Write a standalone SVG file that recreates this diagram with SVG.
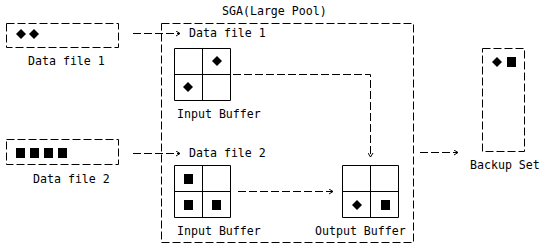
<svg xmlns="http://www.w3.org/2000/svg" width="548" height="251" viewBox="0 0 548 251">
<defs>
<style>
text{font-family:"DejaVu Sans Mono","Liberation Mono",monospace;font-size:11.6px;fill:#000}
.d{fill:none;stroke:#000;stroke-width:1;stroke-dasharray:8 3}
.g{fill:none;stroke:#000;stroke-width:1}
.f{fill:#000}
</style>
<marker id="ah" markerWidth="6" markerHeight="6" refX="5" refY="3" orient="auto" markerUnits="userSpaceOnUse">
<path d="M1,0.5 L5,3 L1,5.5" fill="none" stroke="#000" stroke-width="1"/>
</marker>
<path id="dia" d="M0,-5 L5,0 L0,5 L-5,0 Z"/>
</defs>
<rect width="548" height="251" fill="#fff"/>

<g id="sga">
<rect class="d" x="161.5" y="23.5" width="252" height="219"/>
<text x="222" y="15">SGA(Large Pool)</text>
<text x="189" y="37">Data file 1</text>
<text x="189" y="157">Data file 2</text>
</g>

<g id="datafile1">
<rect class="d" x="6.5" y="23.5" width="112" height="24"/>
<use href="#dia" x="21" y="34" class="f"/>
<use href="#dia" x="34" y="34" class="f"/>
<text x="28" y="65">Data file 1</text>
</g>

<g id="datafile2">
<rect class="d" x="6.5" y="139.5" width="112" height="25"/>
<rect class="f" x="16" y="148" width="9" height="10"/>
<rect class="f" x="30" y="148" width="9" height="10"/>
<rect class="f" x="44" y="148" width="9" height="10"/>
<rect class="f" x="58" y="148" width="9" height="10"/>
<text x="33" y="183">Data file 2</text>
</g>

<g id="inbuf1">
<path class="g" d="M174.5,48.5 H230.5 V100.5 H174.5 Z M202.5,48.5 V100.5 M174.5,74.5 H230.5"/>
<use href="#dia" x="217" y="61" class="f"/>
<use href="#dia" x="188" y="87" class="f"/>
<text x="177" y="118">Input Buffer</text>
</g>

<g id="inbuf2">
<path class="g" d="M174.5,165.5 H230.5 V217.5 H174.5 Z M202.5,165.5 V217.5 M174.5,191.5 H230.5"/>
<rect class="f" x="184" y="174" width="9" height="10"/>
<rect class="f" x="184" y="200" width="9" height="10"/>
<rect class="f" x="212" y="200" width="9" height="10"/>
<text x="177" y="235">Input Buffer</text>
</g>

<g id="outbuf">
<path class="g" d="M342.5,165.5 H398.5 V217.5 H342.5 Z M370.5,165.5 V217.5 M342.5,191.5 H398.5"/>
<use href="#dia" x="357" y="205" class="f"/>
<rect class="f" x="381" y="200" width="9" height="10"/>
<text x="315" y="235">Output Buffer</text>
</g>

<g id="backup">
<rect class="d" x="482.5" y="48.5" width="42" height="103"/>
<use href="#dia" x="497" y="62" class="f"/>
<rect class="f" x="507" y="57" width="9" height="10"/>
<text x="470" y="169">Backup Set</text>
</g>

<g id="connectors">
<path class="d" d="M133,33.5 H180" marker-end="url(#ah)"/>
<path class="d" d="M133,153.5 H180" marker-end="url(#ah)"/>
<path class="d" d="M233,74.5 H370.5 V157" marker-end="url(#ah)"/>
<path class="d" d="M238,191.5 H333" marker-end="url(#ah)"/>
<path class="d" d="M420,152.5 H458" marker-end="url(#ah)"/>
</g>
</svg>
